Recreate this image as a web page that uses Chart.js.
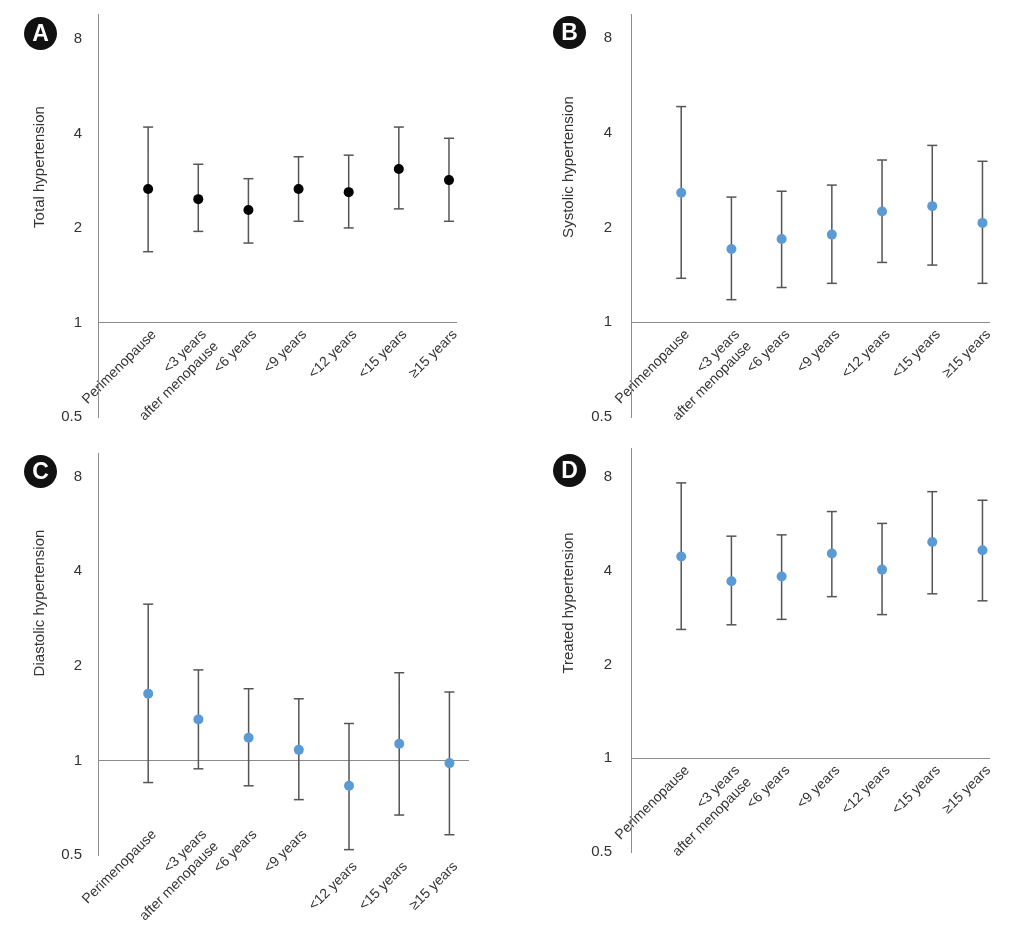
<!DOCTYPE html>
<html>
<head>
<meta charset="utf-8">
<script src="https://cdn.jsdelivr.net/npm/chart.js@4.4.1/dist/chart.umd.min.js"></script>
<style>
  body { margin: 0; width: 1027px; height: 945px; background: #fff; position: relative; overflow: hidden; font-family: "Liberation Sans", Arial, sans-serif; }
  .panel { position: absolute; }
  .badge { position: absolute; width: 33px; height: 33px; border-radius: 50%; background: #111; color: #fff; font-weight: bold; font-size: 23px; line-height: 33px; text-align: center; }
  .ytitle { position: absolute; white-space: nowrap; font-size: 15px; color: #333; transform: translate(-50%, -50%) rotate(-90deg); }
</style>
</head>
<body>
<div class="panel" style="left:0;top:-11px"><canvas id="chartA" width="510" height="456"></canvas></div>
<div class="panel" style="left:510px;top:-14px"><canvas id="chartB" width="517" height="462"></canvas></div>
<div class="panel" style="left:0;top:428px"><canvas id="chartC" width="510" height="517"></canvas></div>
<div class="panel" style="left:510px;top:420px"><canvas id="chartD" width="517" height="525"></canvas></div>

<div class="badge" style="left:24px;top:17px">A</div>
<div class="badge" style="left:553px;top:16px">B</div>
<div class="badge" style="left:24px;top:455px">C</div>
<div class="badge" style="left:553px;top:454px">D</div>

<div class="ytitle" style="left:38px;top:167px">Total hypertension</div>
<div class="ytitle" style="left:567px;top:167px">Systolic hypertension</div>
<div class="ytitle" style="left:38px;top:603px">Diastolic hypertension</div>
<div class="ytitle" style="left:567px;top:603px">Treated hypertension</div>

<script>
// categories (x axis) and y axis ticks
const categories = ['Perimenopause', ['<3 years', 'after menopause'], '<6 years', '<9 years', '<12 years', '<15 years', '≥15 years'];
const yTicks = [0.5, 1, 2, 4, 8];

// A - total hypertension
const totalOR = [2.66, 2.47, 2.28, 2.66, 2.60, 3.08, 2.84];
const totalLow = [1.68, 1.95, 1.79, 2.10, 2.00, 2.30, 2.10];
const totalHigh = [4.19, 3.19, 2.87, 3.37, 3.41, 4.19, 3.86];

// B - systolic hypertension
const systolicOR = [2.58, 1.71, 1.84, 1.90, 2.25, 2.34, 2.07];
const systolicLow = [1.38, 1.18, 1.29, 1.33, 1.55, 1.52, 1.33];
const systolicHigh = [4.85, 2.50, 2.61, 2.73, 3.28, 3.65, 3.25];

// C - diastolic hypertension
const diastolicOR = [1.63, 1.35, 1.18, 1.08, 0.83, 1.13, 0.98];
const diastolicLow = [0.85, 0.94, 0.83, 0.75, 0.52, 0.67, 0.58];
const diastolicHigh = [3.14, 1.94, 1.69, 1.57, 1.31, 1.90, 1.65];

// D - treated hypertension
const treatedOR = [4.44, 3.70, 3.83, 4.54, 4.03, 4.94, 4.65];
const treatedLow = [2.59, 2.68, 2.79, 3.30, 2.89, 3.37, 3.20];
const treatedHigh = [7.65, 5.16, 5.21, 6.19, 5.67, 7.17, 6.73];

const textColor = '#333333';
const axisColor = '#8c8c8c';
const barColor = '#555555';

Chart.defaults.font.family = '"Liberation Sans", Arial, sans-serif';

// nudges the x labels (panel C has them lower and staggered)
const nudgeLabels = {
  id: 'nudgeLabels',
  beforeDraw(chart, args, opts) {
    const items = chart.scales.x.getLabelItems();
    if (items._nudged) return;
    items._nudged = true;
    items.forEach((item, i) => {
      item.options.translation[0] += opts.dx || 0;
      item.options.translation[1] += opts.dy ? opts.dy[i] : 0;
    });
  }
};

function makePanel(id, or, low, high, cfg) {
  const stems = [];
  const caps = [];
  or.forEach((v, i) => {
    stems.push({x: i + 1, y: low[i]}, {x: i + 1, y: high[i]}, {x: i + 1, y: null});
    caps.push({x: i + 1, y: low[i]}, {x: i + 1, y: high[i]});
  });
  const points = or.map((v, i) => ({x: i + 1, y: v}));

  new Chart(document.getElementById(id), {
    type: 'scatter',
    data: {
      datasets: [
        {data: points, order: 1, pointRadius: 5, pointBackgroundColor: cfg.color, pointBorderColor: cfg.color, pointBorderWidth: 0, clip: false},
        {data: caps, order: 2, pointStyle: 'line', pointRadius: 5, pointBorderColor: barColor, pointBorderWidth: 1.5, clip: false},
        {data: stems, order: 3, showLine: true, spanGaps: false, pointRadius: 0, borderColor: barColor, borderWidth: 1.5, clip: false}
      ]
    },
    plugins: [nudgeLabels],
    options: {
      responsive: false,
      animation: false,
      events: [],
      layout: {padding: {left: 0, top: 0, right: cfg.right, bottom: cfg.bottom}},
      plugins: {
        legend: {display: false},
        tooltip: {enabled: false},
        nudgeLabels: {dx: 6, dy: cfg.dy}
      },
      scales: {
        x: {
          type: 'linear',
          position: {y: 1},
          min: 0,
          max: cfg.xMax,
          grid: {display: false, drawTicks: false},
          border: {display: true, color: axisColor, width: 1},
          afterBuildTicks: s => { s.ticks = categories.map((c, i) => ({value: i + 1})); },
          ticks: {
            autoSkip: false,
            minRotation: 45,
            maxRotation: 45,
            padding: 4,
            color: textColor,
            font: {size: 14},
            callback: v => categories[v - 1]
          }
        },
        y: {
          type: 'logarithmic',
          position: 'left',
          min: 0.5,
          max: cfg.yMax,
          grid: {display: false, drawTicks: false},
          border: {display: true, color: axisColor, width: 1},
          afterBuildTicks: s => { s.ticks = yTicks.map(v => ({value: v})); },
          afterFit: s => { s.width = cfg.axisX; },
          ticks: {
            padding: cfg.tickPad,
            color: textColor,
            font: {size: 15},
            callback: v => String(v)
          }
        }
      }
    }
  });
}

makePanel('chartA', totalOR, totalLow, totalHigh,
  {color: '#000000', axisX: 98, bottom: 28, right: 54, xMax: 7.14, yMax: 9.6, tickPad: 16});
makePanel('chartB', systolicOR, systolicLow, systolicHigh,
  {color: '#5b9bd5', axisX: 121, bottom: 31, right: 38, xMax: 7.13, yMax: 9.55, tickPad: 19});
makePanel('chartC', diastolicOR, diastolicLow, diastolicHigh,
  {color: '#5b9bd5', axisX: 98, bottom: 90, right: 42, xMax: 7.37, yMax: 9.5, tickPad: 16,
   dy: [62, 62, 62, 62, 94, 94, 94]});
makePanel('chartD', treatedOR, treatedLow, treatedHigh,
  {color: '#5b9bd5', axisX: 121, bottom: 93, right: 38, xMax: 7.13, yMax: 9.9, tickPad: 19});
</script>
</body>
</html>
